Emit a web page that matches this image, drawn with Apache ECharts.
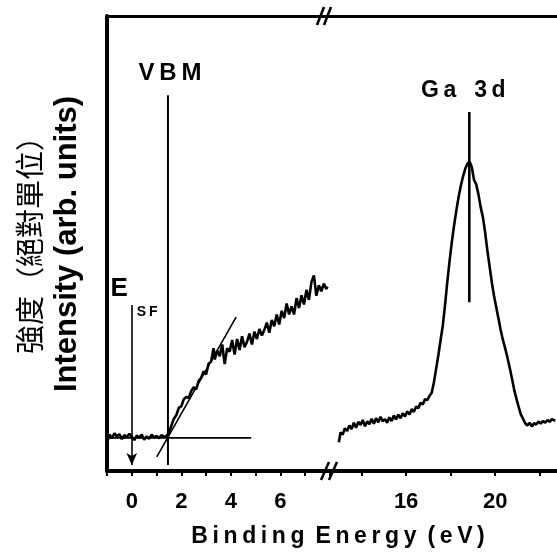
<!DOCTYPE html>
<html>
<head>
<meta charset="utf-8">
<script src="https://cdn.jsdelivr.net/npm/echarts@6/dist/echarts.min.js"></script>
<style>
html,body{margin:0;padding:0;background:#fff;}
#c{width:557px;height:557px;}
</style>
</head>
<body>
<div id="c"></div>
<script>
// ---- data (binding energy eV, intensity arb.) ----
var leftSpectrum = [
 [-0.98,6.5],[-0.9,8.0],[-0.8,7.2],[-0.7,8.3],[-0.6,7.6],[-0.5,8.1],[-0.4,7.0],[-0.3,7.9],[-0.2,7.4],[-0.1,8.2],
 [0.0,7.5],[0.1,6.8],[0.2,7.8],[0.3,7.3],[0.4,8.0],[0.5,6.9],[0.6,7.6],[0.7,7.1],[0.8,8.0],[0.9,7.4],
 [1.0,7.7],[1.1,7.2],[1.2,7.9],[1.3,7.5],[1.4,7.7],[1.5,8.4],[1.6,10.0],[1.7,11.5],[1.8,12.3],[1.9,13.9],
 [2.0,14.2],[2.1,15.8],[2.2,16.3],[2.3,16.0],[2.4,17.6],[2.5,18.4],[2.6,18.0],[2.7,19.8],[2.8,20.5],[2.9,21.9],
 [3.0,21.2],[3.1,23.6],[3.2,24.0],[3.3,27.0],[3.35,24.5],[3.45,26.5],[3.55,25.2],[3.65,27.8],[3.75,23.5],[3.85,27.0],
 [3.95,26.2],[4.05,28.8],[4.15,25.6],[4.25,29.0],[4.35,26.6],[4.45,29.6],[4.55,27.2],[4.65,28.4],[4.75,30.2],[4.85,27.8],
 [4.95,30.6],[5.05,29.0],[5.15,31.2],[5.25,29.8],[5.35,31.0],[5.45,32.6],[5.55,30.4],[5.65,33.2],[5.75,31.8],[5.85,34.4],
 [5.95,32.2],[6.05,35.2],[6.15,33.6],[6.25,36.8],[6.35,34.4],[6.45,36.2],[6.55,34.4],[6.65,38.0],[6.75,35.8],[6.85,38.6],
 [6.95,36.6],[7.05,39.8],[7.15,37.6],[7.25,41.5],[7.35,43.0],[7.45,38.5],[7.55,40.8],[7.65,39.5],[7.75,41.2],[7.85,40.0],[7.9,40.5]
];
var rightSpectrum = [
 [12.98,6.3],[13.05,8.5],[13.15,8.0],[13.25,9.4],[13.35,8.8],[13.45,10.0],[13.55,9.2],[13.65,10.6],[13.75,9.5],[13.85,10.8],
 [13.95,10.1],[14.05,11.2],[14.15,9.8],[14.25,10.9],[14.35,10.3],[14.45,11.5],[14.55,10.4],[14.65,11.6],[14.75,10.7],[14.85,11.9],
 [14.95,10.9],[15.05,11.4],[15.15,10.6],[15.25,11.8],[15.35,11.0],[15.45,12.2],[15.55,11.3],[15.65,12.4],[15.75,11.6],[15.85,12.7],
 [15.95,12.0],[16.05,13.1],[16.15,12.4],[16.25,13.6],[16.35,13.0],[16.45,14.2],[16.55,13.8],[16.65,15.0],[16.75,14.6],[16.85,15.8],
 [16.95,15.6],[17.05,16.5],[17.15,17.2],[17.25,19.5],[17.35,22.5],[17.45,25.5],[17.55,28.8],[17.65,32.0],[17.75,36.5],[17.85,41.5],
 [17.95,46.0],[18.05,50.2],[18.15,53.8],[18.25,57.0],[18.35,60.0],[18.45,62.5],[18.55,64.6],[18.65,66.3],[18.75,67.5],[18.85,68.0],
 [18.95,66.8],[19.05,64.0],[19.15,63.0],[19.25,60.8],[19.35,58.0],[19.45,55.8],[19.55,52.5],[19.65,48.5],[19.75,45.0],[19.85,41.5],
 [19.95,38.5],[20.05,36.0],[20.15,33.5],[20.25,31.0],[20.35,28.8],[20.45,27.0],[20.55,25.0],[20.65,22.8],[20.75,20.5],[20.85,18.0],
 [20.95,16.0],[21.05,14.2],[21.15,12.5],[21.25,11.5],[21.35,10.5],[21.45,10.0],[21.55,10.6],[21.65,9.8],[21.75,10.5],[21.85,10.2],
 [21.95,10.9],[22.05,10.4],[22.15,11.0],[22.25,10.6],[22.35,11.2],[22.45,10.8],[22.55,11.4],[22.7,11.0]
];
var tangentLine = [[1.01,3.1],[4.21,33.8]];
var baselineFit = [[-1,7.3],[4.82,7.3]];
var vbmLine = [[1.46,1.3],[1.46,82.6]];
var esfArrow = [[0,36.5],[0,1.3]];
var ga3dLine = [[18.84,37.1],[18.84,78.9]];
var leftTickLabels = [0,2,4,6];
var rightTicks = [14,16,18,20,22];
var rightTickLabels = [16,20];

var FONT = "'Liberation Sans Narrow','Liberation Sans',Arial,sans-serif";
var chart = echarts.init(document.getElementById('c'), null, {renderer:'canvas'});
var black = '#000';
var gridTop = 16, gridH = 455;

var option = {
  animation:false,
  backgroundColor:'#fff',
  grid:[
    {left:107, top:gridTop, width:223, height:gridH},
    {left:330, top:gridTop, width:227, height:gridH}
  ],
  xAxis:[
    {gridIndex:0, type:'value', min:-1, max:8, interval:1, position:'bottom',
     axisLine:{show:true, onZero:false, lineStyle:{color:black, width:4}},
     axisTick:{show:true, length:5, inside:false, lineStyle:{color:black, width:2}},
     axisLabel:{margin:20, color:black, fontSize:22, fontWeight:'bold', fontFamily:FONT,
       formatter:function(v){ return leftTickLabels.indexOf(v)>=0 ? String(v) : ''; }},
     splitLine:{show:false}},
    {gridIndex:1, type:'value', min:12.58, max:22.78, position:'bottom',
     axisLine:{show:true, onZero:false, lineStyle:{color:black, width:4}},
     axisTick:{show:true, length:5, customValues:rightTicks, lineStyle:{color:black, width:2}},
     axisLabel:{margin:20, color:black, fontSize:22, fontWeight:'bold', fontFamily:FONT, customValues:rightTickLabels},
     splitLine:{show:false}},
    {gridIndex:0, type:'value', min:-1, max:8, position:'top',
     axisLine:{show:true, onZero:false, lineStyle:{color:black, width:3}},
     axisTick:{show:false}, axisLabel:{show:false}, splitLine:{show:false}},
    {gridIndex:1, type:'value', min:12.58, max:22.78, position:'top',
     axisLine:{show:true, onZero:false, lineStyle:{color:black, width:3}},
     axisTick:{show:false}, axisLabel:{show:false}, splitLine:{show:false}}
  ],
  yAxis:[
    {gridIndex:0, type:'value', min:0, max:100, position:'left',
     axisLine:{show:true, onZero:false, lineStyle:{color:black, width:4}},
     axisTick:{show:false}, axisLabel:{show:false}, splitLine:{show:false}},
    {gridIndex:1, type:'value', min:0, max:100, show:false, splitLine:{show:false}}
  ],
  series:[
    {type:'line', xAxisIndex:0, yAxisIndex:0, data:leftSpectrum, showSymbol:false, symbol:'none',
     lineStyle:{color:black, width:2.6}},
    {type:'line', xAxisIndex:0, yAxisIndex:0, data:tangentLine, showSymbol:false, symbol:'none',
     lineStyle:{color:black, width:1.6}},
    {type:'line', xAxisIndex:0, yAxisIndex:0, data:baselineFit, showSymbol:false, symbol:'none',
     lineStyle:{color:black, width:1.8}},
    {type:'line', xAxisIndex:0, yAxisIndex:0, data:vbmLine, showSymbol:false, symbol:'none',
     lineStyle:{color:black, width:2}},
    {type:'line', xAxisIndex:0, yAxisIndex:0, data:[], showSymbol:false,
     markLine:{silent:true, symbol:['none','arrow'], symbolSize:[8,12], label:{show:false},
       lineStyle:{color:black, width:1.6, type:'solid'},
       data:[[{coord:esfArrow[0]},{coord:esfArrow[1]}]]}},
    {type:'line', xAxisIndex:1, yAxisIndex:1, data:rightSpectrum, showSymbol:false, symbol:'none',
     lineStyle:{color:black, width:2.6}},
    {type:'line', xAxisIndex:1, yAxisIndex:1, data:ga3dLine, showSymbol:false, symbol:'none',
     lineStyle:{color:black, width:2.6}}
  ]
};
chart.setOption(option);

var pVbm = chart.convertToPixel({gridIndex:0}, vbmLine[1]);
var pEsf = chart.convertToPixel({gridIndex:0}, esfArrow[0]);
var pGa = chart.convertToPixel({gridIndex:1}, ga3dLine[1]);
var brkX = 107 + 223;
var axisY = gridTop + gridH;

var txt = function(x,y,s,size,align,vAlign,extra){
  var st = {x:x, y:y, text:s, fill:black, font:'bold '+size+'px '+FONT, textAlign:align, textVerticalAlign:vAlign};
  return Object.assign({type:'text', style:st, z:100}, extra||{});
};

chart.setOption({graphic:[
  txt(pVbm[0]+2, pVbm[1]-10, 'V\u2009B\u2009M', 24, 'center', 'bottom'),
  txt(pGa[0]-6, pGa[1]-10, 'G\u2009a\u2002 3\u2009d', 23, 'center', 'bottom'),
  txt(pEsf[0]-4, pEsf[1]-3, 'E', 26, 'right', 'bottom'),
  txt(pEsf[0]+5, pEsf[1]+14, 'S\u2009F', 14, 'left', 'bottom'),
  txt(338, 537, 'B\u2009i\u2009n\u2009d\u2009i\u2009n\u2009g\u2009 E\u2009n\u2009e\u2009r\u2009g\u2009y\u2009 (\u2009e\u2009V\u2009)', 23, 'center', 'middle'),
  {type:'text', x:67, y:244, rotation:Math.PI/2, z:100,
   style:{x:0, y:0, text:'Intensity (arb. units)', fill:black, font:'bold 31px '+FONT, textAlign:'center', textVerticalAlign:'middle'}},
  {type:'text', x:30, y:238, rotation:Math.PI/2, z:100,
   style:{x:0, y:0, text:'強度（絕對單位）', fill:black, font:"29px 'Noto Sans CJK TC','Noto Sans CJK SC',sans-serif", textAlign:'center', textVerticalAlign:'middle'}},
  // axis break marks
  {type:'line', z:100, shape:{x1:brkX-9, y1:axisY+9, x2:brkX-1, y2:axisY-9}, style:{stroke:black, lineWidth:2.5}},
  {type:'line', z:100, shape:{x1:brkX-1, y1:axisY+9, x2:brkX+7, y2:axisY-9}, style:{stroke:black, lineWidth:2.5}},
  {type:'line', z:100, shape:{x1:brkX-13, y1:gridTop+9, x2:brkX-6, y2:gridTop-9}, style:{stroke:black, lineWidth:2.5}},
  {type:'line', z:100, shape:{x1:brkX-6, y1:gridTop+9, x2:brkX+1, y2:gridTop-9}, style:{stroke:black, lineWidth:2.5}}
]});
</script>
</body>
</html>
